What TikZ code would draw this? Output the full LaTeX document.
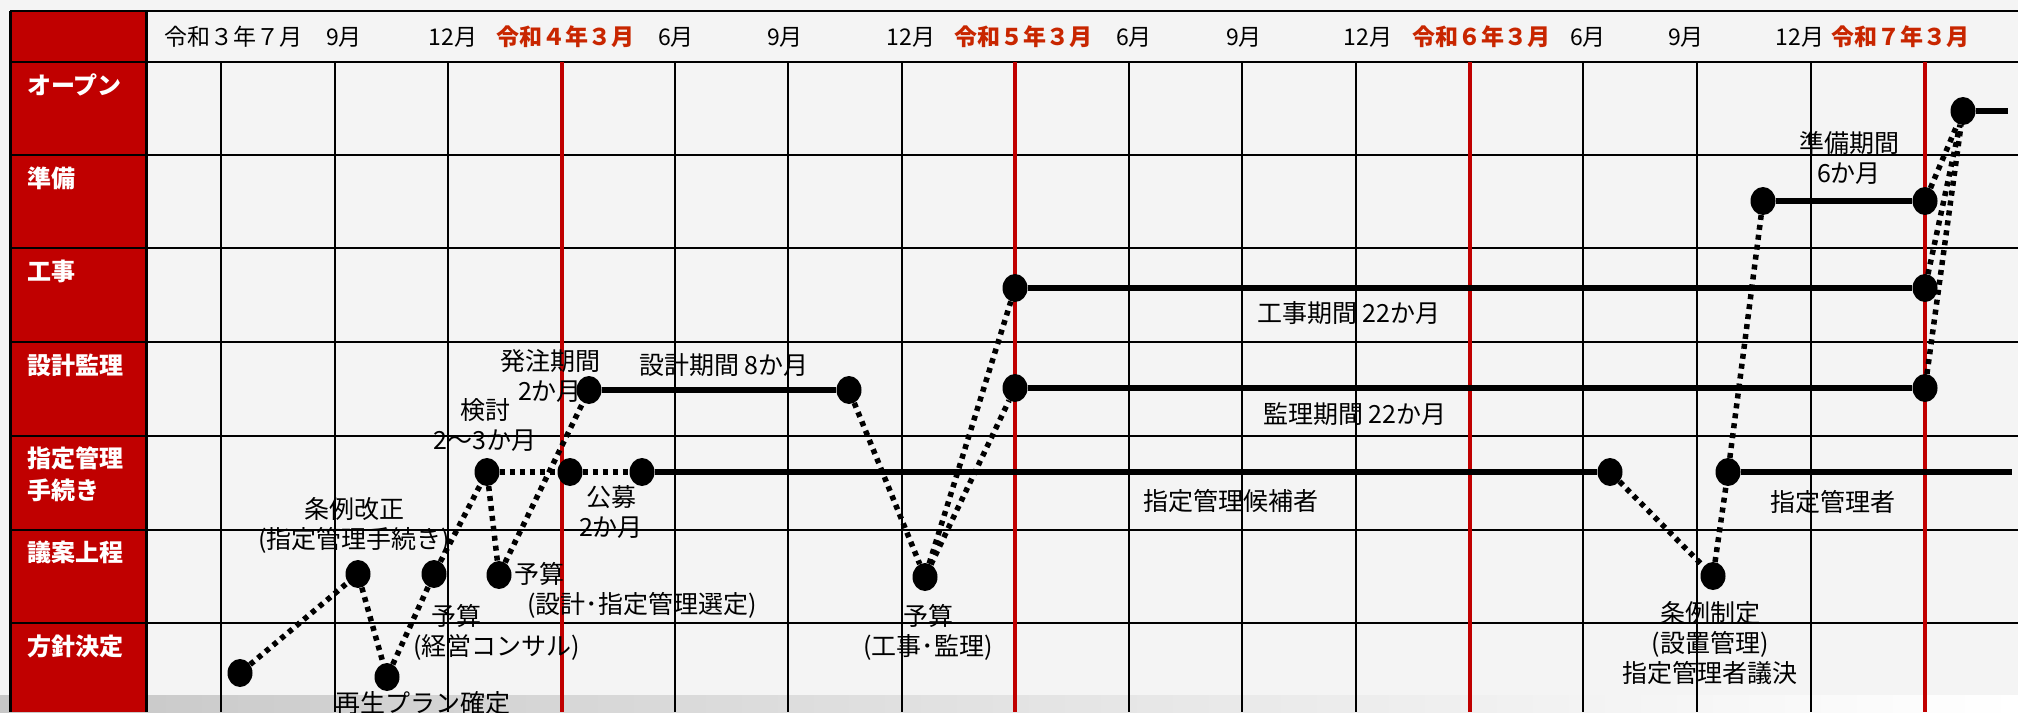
\documentclass[tikz,border=0pt]{standalone}
\usepackage{fontspec}
\setmainfont{Noto Sans CJK JP}
\usepackage{tikz}
\usepackage{xcolor}
\usetikzlibrary{shapes.geometric}
\definecolor{hyored}{RGB}{192,0,0}
\definecolor{nenred}{RGB}{200,38,0}
\definecolor{hyobg}{RGB}{244,244,244}

\begin{document}
\begin{tikzpicture}[x=1pt,y=-1pt]
\tikzstyle{every node}+=[inner sep=0pt]
\tikzstyle{dot}=[ellipse,fill=black,minimum width=25pt,minimum height=28pt]
\tikzstyle{kikan}=[black,line width=5.5pt]
\tikzstyle{tensen}=[black,line width=5.5pt,dash pattern=on 5pt off 5pt]
\tikzstyle{lbl}=[align=center,font=\fontsize{25}{30}\selectfont]
\tikzstyle{tsuki}=[font=\fontsize{23}{28}\selectfont]
\tikzstyle{nendo}=[text=nenred,font=\fontsize{23}{28}\selectfont\bfseries]
\tikzstyle{koumoku}=[anchor=west,align=left,text=white,font=\fontsize{24}{32}\selectfont\bfseries]
\tikzstyle{keisen}=[black,line width=2pt]
\tikzstyle{akasen}=[hyored,line width=4pt]
\useasboundingbox (0,0) rectangle (2018,712);
\fill [hyobg] (0,0) rectangle (2018,712);
\shade [left color=black!22,right color=white] (0,695) rectangle (2018,712);
\fill [hyored] (10,11) rectangle (146,712);
% table lines
\draw [keisen] (10,11) -- (2018,11);
\draw [keisen] (10,61.5) -- (2018,61.5);
\draw [keisen] (10,155) -- (2018,155);
\draw [keisen] (10,248) -- (2018,248);
\draw [keisen] (10,342) -- (2018,342);
\draw [keisen] (10,436) -- (2018,436);
\draw [keisen] (10,530) -- (2018,530);
\draw [keisen] (10,623) -- (2018,623);
\draw [keisen,line width=3pt] (10,11) -- (10,712);
\draw [keisen,line width=3pt] (146,11) -- (146,712);
\draw [keisen] (221,61.5) -- (221,712);
\draw [keisen] (335,61.5) -- (335,712);
\draw [keisen] (448,61.5) -- (448,712);
\draw [keisen] (675,61.5) -- (675,712);
\draw [keisen] (788,61.5) -- (788,712);
\draw [keisen] (902,61.5) -- (902,712);
\draw [keisen] (1129,61.5) -- (1129,712);
\draw [keisen] (1242,61.5) -- (1242,712);
\draw [keisen] (1356,61.5) -- (1356,712);
\draw [keisen] (1583,61.5) -- (1583,712);
\draw [keisen] (1697,61.5) -- (1697,712);
\draw [keisen] (1811,61.5) -- (1811,712);
\draw [akasen] (562,61.5) -- (562,712);
\draw [akasen] (1015,61.5) -- (1015,712);
\draw [akasen] (1470,61.5) -- (1470,712);
\draw [akasen] (1925,61.5) -- (1925,712);
% header
\node [tsuki] (r3) at (233,37) {令和３年７月};
\node [tsuki] (m1) at (344,37) {9月};
\node [tsuki] (m2) at (453,37) {12月};
\node [nendo] (r4) at (565,37) {令和４年３月};
\node [tsuki] (m3) at (676,37) {6月};
\node [tsuki] (m4) at (785,37) {9月};
\node [tsuki] (m5) at (911,37) {12月};
\node [nendo] (r5) at (1023,37) {令和５年３月};
\node [tsuki] (m6) at (1134,37) {6月};
\node [tsuki] (m7) at (1244,37) {9月};
\node [tsuki] (m8) at (1368,37) {12月};
\node [nendo] (r6) at (1481,37) {令和６年３月};
\node [tsuki] (m9) at (1588,37) {6月};
\node [tsuki] (m10) at (1686,37) {9月};
\node [tsuki] (m11) at (1800,37) {12月};
\node [nendo] (r7) at (1900,37) {令和７年３月};
% left column
\node [koumoku] (open_k) at (27,85) {オープン};
\node [koumoku] (junbi_k) at (27,178) {準備};
\node [koumoku] (koji_k) at (27,271) {工事};
\node [koumoku] (sekkei_k) at (27,365) {設計監理};
\node [koumoku] (shitei_k) at (27,474) {指定管理\\手続き};
\node [koumoku] (gian_k) at (27,552) {議案上程};
\node [koumoku] (hoshin_k) at (27,646) {方針決定};
% milestones
\node [dot] (hoshin) at (240,673) {};
\node [dot] (jorei) at (358,574) {};
\node [dot] (saisei) at (387,677) {};
\node [dot] (yosana) at (434,574) {};
\node [dot] (kento) at (487,472) {};
\node [dot] (yosanb) at (499,575) {};
\node [dot] (hacchu) at (589,390) {};
\node [dot] (shitei) at (570,472) {};
\node [dot] (kobo) at (642,472) {};
\node [dot] (sekkei) at (849,390) {};
\node [dot] (yosanc) at (925,577) {};
\node [dot] (kanri) at (1015,388) {};
\node [dot] (koji) at (1015,288) {};
\node [dot] (kohoend) at (1610,472) {};
\node [dot] (seitei) at (1713,576) {};
\node [dot] (shiteisha) at (1728,472) {};
\node [dot] (junbi) at (1763,201) {};
\node [dot] (junbiend) at (1925,201) {};
\node [dot] (kojiend) at (1925,288) {};
\node [dot] (kanriend) at (1925,388) {};
\node [dot] (open) at (1963,111) {};
\coordinate (openend) at (2008,111);
\coordinate (shiteiend) at (2012,472);
% periods
\draw [kikan] (hacchu) -- (sekkei);
\draw [kikan] (kobo) -- (kohoend);
\draw [kikan] (koji) -- (kojiend);
\draw [kikan] (kanri) -- (kanriend);
\draw [kikan] (junbi) -- (junbiend);
\draw [kikan] (shiteisha) -- (shiteiend);
\draw [kikan] (open) -- (openend);
% steps
\draw [tensen] (hoshin) -- (jorei);
\draw [tensen] (jorei) -- (saisei);
\draw [tensen] (saisei) -- (yosana);
\draw [tensen] (yosana) -- (kento);
\draw [tensen] (kento) -- (yosanb);
\draw [tensen] (yosanb) -- (hacchu);
\draw [tensen] (kento) -- (shitei);
\draw [tensen] (shitei) -- (kobo);
\draw [tensen] (sekkei) -- (yosanc);
\draw [tensen] (yosanc) -- (kanri);
\draw [tensen] (yosanc) -- (koji);
\draw [tensen] (kohoend) -- (seitei);
\draw [tensen] (seitei) -- (shiteisha);
\draw [tensen] (shiteisha) -- (junbi);
\draw [tensen] (junbiend) -- (open);
\draw [tensen] (kojiend) -- (open);
\draw [tensen] (kanriend) -- (open);
% labels
\node [lbl] (hacchu_l) at (550,376) {発注期間\\2か月};
\node [lbl] (kento_l) at (485,425) {検討\\2〜3か月};
\node [lbl] (jorei_l) at (354,525) {条例改正\\(指定管理手続き)};
\node [lbl] (kobo_l) at (611,512) {公募\\2か月};
\node [lbl,anchor=west,align=left] (yosana_l) at (413,632) {\hspace*{18pt}予算\\(経営コンサル)};
\node [lbl,anchor=west,align=left] (yosanb_l) at (514,590) {予算\\\hspace*{13pt}(設計･指定管理選定)};
\node [lbl] (sekkei_l) at (724,365) {設計期間 8か月};
\node [lbl] (yosanc_l) at (928,632) {予算\\(工事･監理)};
\node [lbl] (koho_l) at (1231,501) {指定管理候補者};
\node [lbl] (koji_l) at (1349,313) {工事期間 22か月};
\node [lbl] (kanri_l) at (1355,414) {監理期間 22か月};
\node [lbl] (junbi_l) at (1849,158) {準備期間\\6か月};
\node [lbl] (shiteisha_l) at (1833,502) {指定管理者};
\node [lbl] (seitei_l) at (1710,643) {条例制定\\(設置管理)\\指定管理者議決};
\node [lbl] (saisei_l) at (423,703) {再生プラン確定};
\end{tikzpicture}
\end{document}
